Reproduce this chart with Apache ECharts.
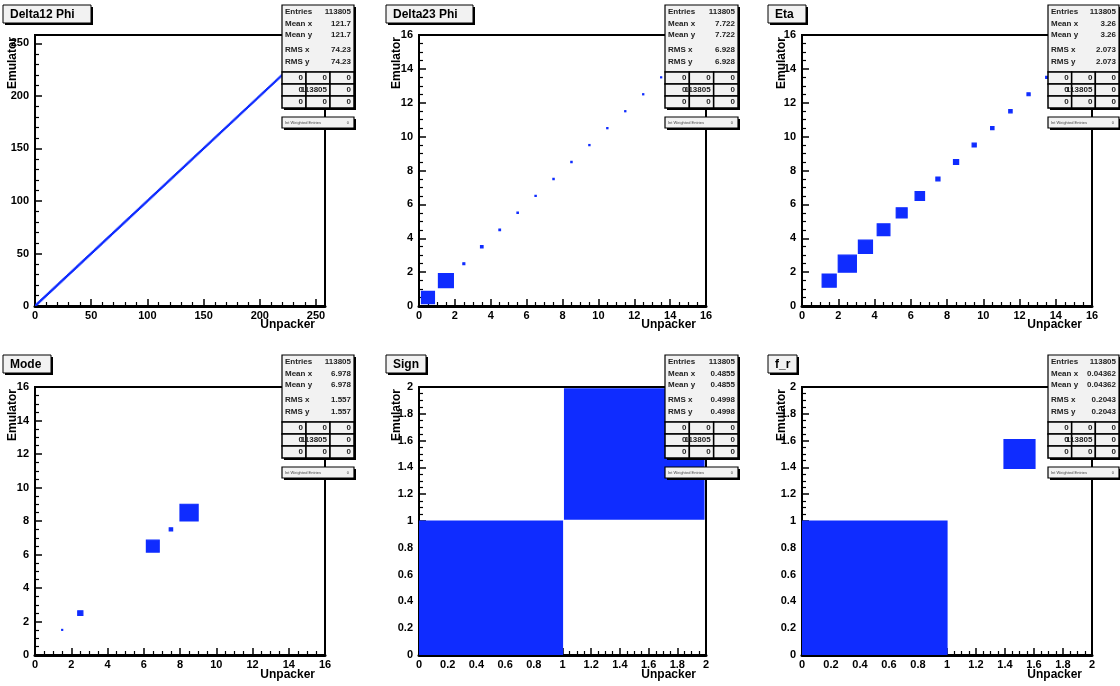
<!DOCTYPE html>
<html>
<head>
<meta charset="utf-8">
<script src="https://cdn.jsdelivr.net/npm/echarts@6/dist/echarts.min.js"></script>
<style>
  html, body { margin: 0; padding: 0; background: #ffffff; }
  #main { width: 1120px; height: 686px; }
</style>
</head>
<body>
<div id="main"></div>
<script>
// ---- data -------------------------------------------------------------
const panelTitles = ['Delta12 Phi', 'Delta23 Phi', 'Eta', 'Mode', 'Sign', 'f_r'];
const xAxisTitle = 'Unpacker';
const yAxisTitle = 'Emulator';

const statsLabels = ['Entries', 'Mean x', 'Mean y', 'RMS x', 'RMS y'];
const entries = ['113805', '113805', '113805', '113805', '113805', '113805'];
const meanX = ['121.7', '7.722', '3.26', '6.978', '0.4855', '0.04362'];
const meanY = ['121.7', '7.722', '3.26', '6.978', '0.4855', '0.04362'];
const rmsX = ['74.23', '6.928', '2.073', '1.557', '0.4998', '0.2043'];
const rmsY = ['74.23', '6.928', '2.073', '1.557', '0.4998', '0.2043'];
const underOverflow = [['0', '0', '0'], ['0', '113805', '0'], ['0', '0', '0']];
const integralLabel = 'Int Weighted Entries';
const integralValue = '0';

const axisRanges = [[0, 258], [0, 16], [0, 16], [0, 16], [0, 2], [0, 2]];
const tickSteps = [50, 2, 2, 2, 0.2, 0.2];
const minorSplits = [5, 4, 4, 4, 4, 4];
const binWidths = [1, 1, 1, 1, 1, 1];

// Cell contents along the diagonal (Unpacker == Emulator); bin i spans [i, i+1)
const delta12Phi = [
  512, 498, 521, 505, 489, 517, 503, 494, 526, 508, 481, 499, 515, 502, 490, 511,
  497, 520, 486, 506, 513, 492, 501, 518, 484, 509, 496, 507, 488, 515, 499, 503,
  493, 510, 482, 504, 497, 516, 489, 500, 478, 508, 495, 486, 512, 491, 499, 484,
  502, 487, 496, 510, 480, 494, 505, 483, 498, 489, 507, 477, 492, 501, 486, 495,
  479, 497, 488, 503, 474, 490, 485, 499, 481, 493, 470, 488, 496, 476, 484, 491,
  473, 487, 480, 494, 468, 482, 489, 475, 486, 471, 479, 490, 466, 483, 474, 481,
  469, 478, 485, 462, 476, 471, 483, 465, 474, 480, 459, 472, 468, 477, 463, 470,
  475, 458, 467, 473, 461, 469, 455, 466, 472, 457, 464, 470, 452, 461, 467, 456,
  463, 450, 459, 466, 448, 457, 462, 445, 455, 460, 443, 452, 458, 447, 454, 441,
  450, 456, 439, 448, 453, 436, 446, 451, 434, 444, 449, 432, 441, 447, 430, 439,
  445, 428, 437, 442, 425, 435, 440, 423, 433, 438, 421, 431, 436, 419, 429, 434,
  417, 427, 432, 415, 425, 430, 413, 423, 428, 411, 421, 426, 409, 419, 424, 407,
  417, 422, 405, 415, 420, 403, 413, 418, 401, 411, 416, 399, 409, 414, 397, 407,
  412, 395, 405, 410, 393, 403, 408, 391, 401, 406, 389, 399, 404, 387, 397, 402,
  385, 395, 400, 383, 393, 398, 381, 391, 396, 379, 389, 394, 377, 387, 392, 375,
  385, 390, 373, 383, 388, 371, 381, 386, 369, 379, 384, 367, 377, 382, 365, 375
];
const delta23Phi = [23900, 31600, 540, 900, 360, 270, 230, 230, 230, 200, 200, 180, 180, 160, 9000, 45625];
const eta = [0, 18900, 31400, 18900, 15400, 11385, 8500, 1600, 2500, 1600, 1070, 1070, 940, 380, 100, 60];
const mode = [0, 210, 5600, 0, 0, 0, 35200, 2460, 70335, 0, 0, 0, 0, 0, 0, 0];
const sign = [58553, 55252];
const fr = [108841, 4964];

const panelData = [delta12Phi, delta23Phi, eta, mode, sign, fr];

// ---- layout -------------------------------------------------------------
const colLeft = [35, 419, 802];
const colWidth = [290, 287, 290];
const rowTop = [35, 387];
const rowHeight = [271, 268];
const statsLeft = [282, 665, 1048];
const statsWidth = [72, 73, 71];
const statsTop = [5, 355];
const titleLeft = [3, 386, 768];
const titleWidth = [88, 87, 38, 48, 40, 29];
const titleTop = [5, 355];
const yTitleX = [13, 397, 782];
const xTitleY = [325, 675];

const BLUE = '#0f2cff';
const FONT = '"Liberation Sans", Arial, Helvetica, sans-serif';

function boxRenderer(maxCount, binW) {
  return function (params, api) {
    const xc = api.value(0), yc = api.value(1), c = api.value(2);
    const half = 0.5 * binW * Math.sqrt(c / maxCount);
    const p0 = api.coord([xc - half, yc + half]);
    const p1 = api.coord([xc + half, yc - half]);
    return {
      type: 'rect',
      shape: { x: p0[0], y: p0[1], width: p1[0] - p0[0], height: p1[1] - p0[1] },
      style: { fill: BLUE, stroke: BLUE, lineWidth: 1.2 }
    };
  };
}

const grids = [], xAxes = [], yAxes = [], series = [], graphics = [];

function txt(x, y, text, size, weight, align, vAlign, color, extra) {
  return Object.assign({
    type: 'text', x: x, y: y, z: 120,
    style: {
      text: text, fill: color || '#000', fontSize: size, fontWeight: weight, fontFamily: FONT,
      align: align, textAlign: align, verticalAlign: vAlign, textVerticalAlign: vAlign
    }
  }, extra || {});
}
function rect(x, y, w, h, fill, stroke, lw, z) {
  return { type: 'rect', z: z || 110, shape: { x: x, y: y, width: w, height: h },
           style: { fill: fill, stroke: stroke, lineWidth: lw } };
}

for (let k = 0; k < 6; k++) {
  const col = k % 3, row = Math.floor(k / 3);
  const left = colLeft[col], top = rowTop[row], w = colWidth[col], h = rowHeight[row];
  const [lo, hi] = axisRanges[k];
  const step = tickSteps[k];
  // label the upper end only when it falls on a major tick
  const endOnTick = Math.abs(hi / step - Math.round(hi / step)) < 1e-6;
  grids.push({ left: left, top: top, width: w, height: h, show: true,
               borderColor: '#000', borderWidth: 2, backgroundColor: '#fff' });

  const tickCommon = {
    axisLine: { show: true, onZero: false, lineStyle: { color: '#000', width: 2 } },
    axisTick: { show: true, inside: true, length: 7, lineStyle: { color: '#000', width: 1.5 } },
    minorTick: { show: true, splitNumber: minorSplits[k], length: 4, lineStyle: { color: '#000', width: 1.2 } },
    splitLine: { show: false },
    min: lo, max: hi, interval: step
  };
  xAxes.push(Object.assign({ type: 'value', gridIndex: k, position: 'bottom',
    axisLabel: { color: '#000', fontSize: 11, fontWeight: 'bold', fontFamily: FONT, margin: 4,
                 showMaxLabel: endOnTick, hideOverlap: false } }, tickCommon));
  // heavier upper frame edge
  xAxes.push({ type: 'value', gridIndex: k, position: 'top', min: lo, max: hi,
    axisLine: { show: true, lineStyle: { color: '#000', width: 3 } },
    axisTick: { show: false }, axisLabel: { show: false }, splitLine: { show: false } });
  yAxes.push(Object.assign({ type: 'value', gridIndex: k, position: 'left',
    axisLabel: { color: '#000', fontSize: 11, fontWeight: 'bold', fontFamily: FONT, margin: 6,
                 showMaxLabel: endOnTick, hideOverlap: false } }, tickCommon));

  const counts = panelData[k];
  const bw = binWidths[k];
  const pts = [];
  counts.forEach((c, i) => { if (c > 0) pts.push([(i + 0.5) * bw, (i + 0.5) * bw, c]); });
  const maxCount = Math.max.apply(null, counts);
  series.push({ type: 'custom', xAxisIndex: 2 * k, yAxisIndex: k, data: pts,
                renderItem: boxRenderer(maxCount, bw), clip: true, silent: true, z: 2 });

  // histogram title
  const tx = titleLeft[col], ty = titleTop[row];
  graphics.push(rect(tx + 2, ty + 2, titleWidth[k], 18, '#000', null, 0, 105));
  graphics.push(rect(tx, ty, titleWidth[k], 18, '#f2f2f2', '#000', 1, 106));
  graphics.push(txt(tx + 7, ty + 9.5, panelTitles[k], 12, 'bold', 'left', 'middle'));

  // axis titles
  graphics.push(txt(yTitleX[col], top + 2, yAxisTitle, 12, 'bold', 'right', 'middle', '#000',
                    { rotation: Math.PI / 2 }));
  graphics.push(txt(left + w - 10, xTitleY[row], xAxisTitle, 12, 'bold', 'right', 'middle'));

  // statistics box
  const sx = statsLeft[col], sy = statsTop[row], sw = statsWidth[col];
  const topH = 67, rowH = 12, tableH = 3 * rowH;
  graphics.push(rect(sx + 2, sy + 2, sw, topH + tableH, '#000', null, 0, 110));
  graphics.push(rect(sx, sy, sw, topH, '#f2f2f2', '#000', 1.2, 111));
  const lineY = [7, 19, 30, 45, 57];
  const vals = [entries[k], meanX[k], meanY[k], rmsX[k], rmsY[k]];
  for (let r = 0; r < 5; r++) {
    graphics.push(txt(sx + 3, sy + lineY[r], statsLabels[r], 8, 'bold', 'left', 'middle', '#222'));
    graphics.push(txt(sx + sw - 3, sy + lineY[r], vals[r], 8, 'bold', 'right', 'middle', '#222'));
  }
  const cw = sw / 3;
  for (let r = 0; r < 3; r++) {
    for (let c = 0; c < 3; c++) {
      const cx = sx + c * cw, cy = sy + topH + r * rowH;
      graphics.push(rect(cx, cy, cw, rowH, '#f2f2f2', '#000', 1.5, 111));
      graphics.push(txt(cx + cw - 3, cy + rowH / 2, underOverflow[r][c], 8, 'bold', 'right', 'middle', '#222'));
    }
  }
  const iy = sy + topH + tableH + 9;
  graphics.push(rect(sx + 2, iy + 2, sw, 11, '#000', null, 0, 110));
  graphics.push(rect(sx, iy, sw, 11, '#f2f2f2', '#000', 1.2, 111));
  graphics.push(txt(sx + 3, iy + 5.5, integralLabel, 4, 'normal', 'left', 'middle', '#444'));
  graphics.push(txt(sx + sw - 5, iy + 5.5, integralValue, 4, 'normal', 'right', 'middle', '#444'));
}

const chart = echarts.init(document.getElementById('main'), null, { renderer: 'canvas' });
chart.setOption({
  animation: false,
  backgroundColor: '#ffffff',
  grid: grids,
  xAxis: xAxes,
  yAxis: yAxes,
  series: series,
  graphic: { elements: graphics }
});
</script>
</body>
</html>
